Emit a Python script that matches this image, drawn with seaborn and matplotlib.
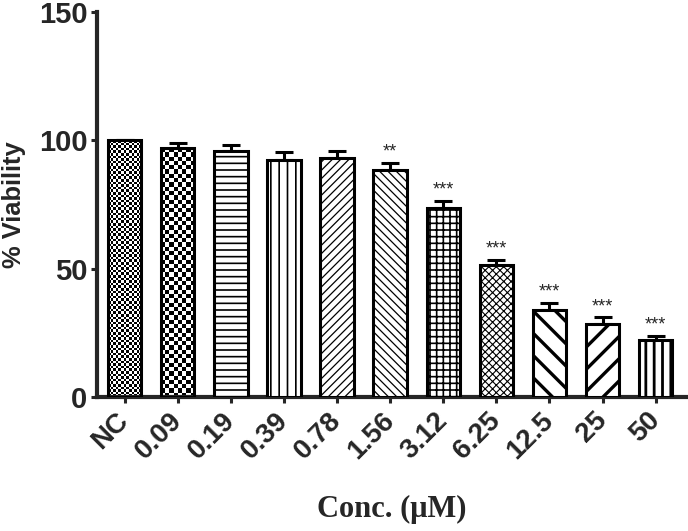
import numpy as np
import pandas as pd
import matplotlib
matplotlib.use("Agg")
import matplotlib.pyplot as plt
import seaborn as sns

sns.set_style("ticks")

# data
conc = ["NC", "0.09", "0.19", "0.39", "0.78", "1.56", "3.12", "6.25", "12.5", "25", "50"]
viability = [100, 97.0, 96.0, 92.5, 93.3, 88.3, 73.5, 51.5, 34.0, 28.5, 22.2]
sem = [0, 2.0, 2.0, 3.0, 2.5, 3.0, 3.0, 2.0, 2.8, 2.5, 1.6]
stars = ["", "", "", "", "", "**", "***", "***", "***", "***", "***"]

# fill of each bar: (hatch, hatch linewidth in pt) ; None -> checkerboard drawn
hatches = [None, None, ("-----", 0.6), ("||||", 0.6), ("////////", 0.45),
           ("\\\\\\\\\\\\\\\\", 0.45), ("+++++", 0.6), ("xxxxxxxxx", 0.4),
           ("\\\\\\", 1.2), ("///", 1.2), ("||||", 1.0)]
checker_px = {0: 2.6, 1: 4.3}

df = pd.DataFrame({"conc": conc, "viability": viability})

fig, ax = plt.subplots(figsize=(3.44, 2.655), dpi=200)
fig.subplots_adjust(left=97/688, right=687/688, bottom=134/531, top=1-12/531)

sns.barplot(data=df, x="conc", y="viability", order=conc, errorbar=None,
            color="white", edgecolor="black", linewidth=1.1, width=0.63,
            saturation=1, ax=ax, zorder=3)

ax.set_xlim(-0.52, 10.59)
ax.set_ylim(0, 150)

x = np.arange(len(conc))
ax.errorbar(x, viability, yerr=[np.zeros(len(sem)), sem], fmt="none",
            ecolor="black", elinewidth=1.1, capsize=3.2, capthick=1.1, zorder=2)

fig.canvas.draw()
sx = ax.transData.transform((1, 0))[0] - ax.transData.transform((0, 0))[0]
sy = ax.transData.transform((0, 1))[1] - ax.transData.transform((0, 0))[1]

for i, p in enumerate(ax.patches):
    h = hatches[i]
    if h is None:
        c = checker_px[i]
        w, ht = p.get_width(), p.get_height()
        nc = max(int(round(w * sx / c)), 1)
        nr = max(int(round(ht * sy / c)), 1)
        board = np.indices((nr, nc)).sum(axis=0) % 2
        im = ax.imshow(board, cmap="gray", extent=(p.get_x(), p.get_x() + w, 0, ht),
                       aspect="auto", interpolation="nearest", zorder=2.5)
        im.set_clip_path(p)
        p.set_facecolor("none")
        p.set_zorder(3)
    else:
        p.set_hatch(h[0])
        p.set_hatch_linewidth(h[1])

ax.set_xlim(-0.52, 10.59)
ax.set_ylim(0, 150)

for i, s in enumerate(stars):
    if s:
        ax.text(i, viability[i] + sem[i] + 0.8, s, ha="center", va="bottom",
                fontsize=6.5, family="Liberation Sans", zorder=5)

sns.despine(ax=ax)
for side in ["left", "bottom"]:
    ax.spines[side].set_linewidth(1.5)
ax.tick_params(axis="both", direction="out", width=1.1, length=2)
ax.tick_params(axis="y", pad=1.5)
ax.set_yticks([0, 50, 100, 150])
ax.set_yticklabels(["0", "50", "100", "150"], fontsize=10.5, fontweight="heavy",
                   family="Liberation Sans")
ax.set_xticks(x)
ax.set_xticklabels(conc, rotation=45, ha="right", va="center", rotation_mode="anchor",
                   fontsize=10, fontweight="bold", family="Liberation Sans")
ax.tick_params(axis="x", pad=5)

ax.set_ylabel("% Viability", fontsize=9.2, fontweight="bold", family="Liberation Sans")
ax.yaxis.set_label_coords(-0.12, 0.5)
ax.set_xlabel("Conc. (\u03bcM)", fontsize=11, fontweight="bold", family="Liberation Serif")
ax.xaxis.set_label_coords(0.5, -0.255)

plt.savefig("out.png", dpi=200)
